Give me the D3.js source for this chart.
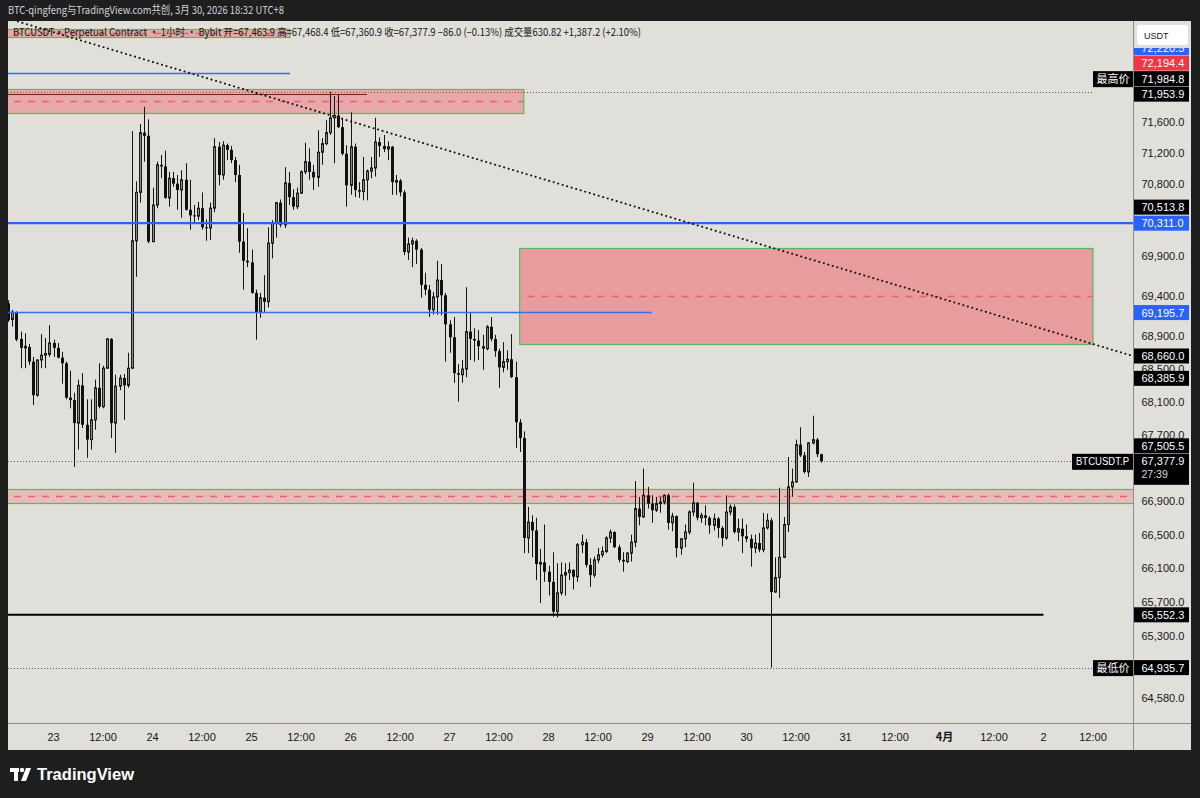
<!DOCTYPE html>
<html>
<head>
<meta charset="utf-8">
<script src="https://cdn.jsdelivr.net/npm/d3@7"></script>
<style>
html, body { margin: 0; padding: 0; background: #1e1e1e; }
svg { display: block; }
text { font-family: "Liberation Sans", Arial, sans-serif; }
</style>
</head>
<body>
<div id="vis"></div>
<script>
//-- Data (BTCUSDT.P, 1h bars from 22 Mar 13:00)
var firstBarTime = "2026-03-22 13:00";

var opens = [69310,69110,69190,68870,68760,68770,68590,68180,68610,68670,68680,68820,68760,68640,68570,68150,68120,67840,68300,67820,
67640,67880,68270,68040,68510,68870,67840,68290,68390,68300,68510,70090,70700,71460,71420,70080,70540,71050,71030,70630,
70880,70810,70730,70860,70480,70410,70400,70500,70260,70250,70500,71280,70920,71300,71240,71110,70920,70080,69840,69820,
69440,69200,69380,69330,70060,70310,70570,70290,70820,70640,70520,70690,70960,71090,70960,70890,71210,71320,71460,71650,
71680,71530,71190,70790,71280,70730,70710,70860,70970,71010,71340,71290,71250,71280,70830,70850,70700,69950,70050,70090,
69980,69540,69480,69230,69390,69600,69410,69050,68890,68450,68430,68500,68960,68870,68850,68780,68750,69020,68870,68720,
68520,68590,68620,68400,67850,67660,66460,66650,66550,66150,66170,66060,65940,65590,65810,66020,66050,66080,66000,66380,
66410,66140,66020,66200,66260,66300,66460,66530,66350,66200,66180,66280,66410,66810,66710,66970,66870,66790,66870,66890,
66970,66640,66720,66340,66450,66530,66770,66880,66700,66730,66700,66610,66690,66580,66460,66770,66830,66530,66570,66480,
66450,66340,66400,66320,66580,66670,65820,65990,66230,66620,67070,67130,67580,67450,67250,67600,67640,67463.9];

var highs = [69350,69230,69210,68960,68940,68810,68650,68620,68930,68880,69040,68860,68820,68710,68590,68480,68210,68370,68450,68130,
68130,68370,68570,68540,68880,68880,68430,68430,68440,68700,71480,70840,71570,71790,71630,70760,71090,71175,71230,70960,
70960,70920,70980,71070,70860,70540,70580,70700,70360,70570,71390,71340,71350,71320,71290,71150,71050,70440,70250,69980,
69480,69440,69660,70260,70350,70580,70610,71020,70960,70740,70760,70980,71330,71260,71050,71490,71390,71620,71984.8,71930,
71953.9,71650,71300,71720,71320,70830,71150,70990,71150,71650,71400,71430,71350,71290,70920,70870,70730,70130,70130,70110,
70000,69690,69540,69450,69840,69800,69440,69100,69140,68560,68610,69510,69190,69000,68980,68920,69040,69140,68920,68750,
68830,68730,68930,68590,67890,67740,66830,66730,66700,66330,66620,66130,66290,66160,66170,66160,66170,66090,66400,66500,
66450,66220,66240,66340,66360,66480,66560,66540,66380,66290,66290,66500,67140,66950,67290,67070,66970,66950,66950,66980,
66990,66760,66730,66460,66620,66790,67120,66890,66760,66850,66720,66750,66710,66600,66970,66860,66860,66690,66690,66620,
66500,66500,66520,66760,66750,66700,66230,67060,66710,67430,67290,67640,67790,67490,67610,67930,67660,67468.4];

var lows = [69080,69020,68840,68510,68510,68550,68060,68160,68510,68510,68650,68650,68630,68320,68130,68020,67310,67520,67780,67420,
67520,67760,68020,68020,68500,67660,67480,68240,67880,68270,68500,69640,70570,71090,70060,70070,70500,70880,70620,70520,
70770,70480,70380,70470,70230,70310,70350,70230,70090,70100,70450,70790,70860,71110,71070,70830,69940,69480,69760,69430,
68860,69130,69200,69260,69870,70130,70260,70250,70540,70480,70490,70680,70930,70860,70730,70770,71050,71300,71430,71070,
71520,71170,70520,70670,70640,70630,70600,70600,70880,70900,71150,71210,71110,70670,70670,70650,69910,69850,69760,69800,
69380,69410,69140,69170,69170,69160,68590,68700,68330,68100,68330,68400,68610,68590,68610,68490,68730,68840,68650,68270,
68460,68490,68390,67540,67490,66280,66280,66230,65960,65690,65940,65780,65530,65520,65780,65780,65960,65850,65940,66280,
66110,65880,65990,66160,66230,66280,66400,66340,66170,66060,66160,66180,66350,66610,66700,66810,66640,66770,66760,66860,
66560,66540,66230,66260,66350,66500,66720,66670,66640,66610,66510,66550,66460,66360,66440,66730,66510,66420,66280,66410,
66120,66280,66290,66290,66560,64935.7,65810,65750,66220,66530,66950,67120,67430,67230,67190,67580,67430,67360.9];

var closes = [69100,69200,68860,68760,68780,68590,68180,68610,68670,68690,68820,68760,68640,68570,68150,68120,67840,68300,67820,67640,
67880,68270,68040,68510,68870,67840,68290,68390,68300,68510,70090,70700,71460,71420,70080,70540,71050,71030,70630,70880,
70810,70730,70860,70480,70410,70400,70500,70260,70250,70500,71280,70920,71300,71240,71110,70920,70080,69840,69820,69440,
69200,69380,69330,70060,70310,70570,70290,70820,70640,70520,70690,70960,71090,70960,70890,71210,71320,71460,71650,71680,
71530,71190,70790,71280,70730,70710,70860,70970,71010,71340,71290,71250,71280,70830,70850,70700,69950,70050,70090,69980,
69540,69480,69230,69390,69600,69410,69050,68890,68450,68430,68500,68960,68870,68850,68780,68750,69020,68870,68720,68520,
68590,68620,68400,67850,67660,66460,66650,66550,66150,66170,66060,65940,65590,65810,66020,66050,66080,66000,66380,66410,
66140,66020,66200,66260,66300,66460,66530,66350,66200,66180,66280,66410,66810,66710,66970,66870,66790,66870,66890,66970,
66640,66720,66340,66450,66530,66770,66880,66700,66730,66700,66610,66690,66580,66460,66770,66830,66530,66570,66480,66450,
66340,66400,66320,66580,66670,65820,65990,66230,66620,67070,67130,67580,67450,67250,67600,67640,67463.9,67377.9];

// price axis ticks (those hidden behind labels in the original are left out)
var priceTicks = [71600, 71200, 70800, 69900, 69400, 68900, 68500, 68100, 67700, 66900, 66500, 66100, 65700, 65300, 64580];

// zones (price boxes)
var zoneTop    = [72798, 72020, 70000, 67046];
var zoneBottom = [72697, 71708, 68808, 66878];
var zoneStart  = ["2026-03-20 00:00", "2026-03-20 00:00", "2026-03-27 17:00", "2026-03-20 00:00"];
var zoneEnd    = ["2026-03-25 09:20", "2026-03-27 18:00", "2026-04-02 12:00", "2026-04-06 00:00"];

// horizontal lines
var hLinePrices = [70311.0, 69195.7, 72220.5, 65552.3, 71953.9];
var hLineEnd    = ["2026-04-06 00:00", "2026-03-29 01:00", "2026-03-25 09:20", "2026-04-02 00:00", "2026-03-26 04:00"];

// trend line
var trendTimes  = ["2026-03-22 11:00", "2026-04-02 21:40"];
var trendPrices = [72966, 68660];

// right-axis price labels
var axisLabelPrices = [72220.5, 72194.4, 71984.8, 71953.9, 70513.8, 70311.0, 69195.7, 68660.0, 68385.9, 67505.5, 67377.9, 65552.3, 64935.7];
var axisLabelKinds  = ["blue", "red", "high", "black", "black", "blue", "blue", "black", "black", "black", "last", "black", "low"];

var highPrice = 71984.8, lowPrice = 64935.7, lastPrice = 67377.9;

var titleText = "BTC-qingfeng与TradingView.com共创, 3月 30, 2026 18:32 UTC+8";
var legendText = "BTCUSDT·Perpetual Contract · 1小时 · Bybit  开=67,463.9  高=67,468.4  低=67,360.9  收=67,377.9  −86.0 (−0.13%)  成交量630.82  +1,387.2 (+2.10%)";

//-- Setup
var width = 1200, height = 798;
var plotL = 8, plotR = 1133, plotT = 21, plotB = 723;
var bg = "#e1dfd9";
var parseT = d3.timeParse("%Y-%m-%d %H:%M");

var svg = d3.select("#vis").append("svg")
  .attr("width", width).attr("height", height);

svg.append("rect").attr("width", width).attr("height", height).attr("fill", "#1e1e1e");
svg.append("rect").attr("x", plotL).attr("y", plotT).attr("width", 1183).attr("height", 750 - plotT).attr("fill", bg);

var x = d3.scaleTime()
  .domain([new Date(2026, 2, 23), new Date(2026, 3, 2)])
  .range([53.5, 1043.5]);
var y = d3.scaleLog()
  .domain([64580, 71600])
  .range([698.3, 121.7]);

svg.append("clipPath").attr("id", "plotclip").append("rect")
  .attr("x", plotL).attr("y", plotT).attr("width", plotR - plotL).attr("height", plotB - plotT);
var plot = svg.append("g").attr("clip-path", "url(#plotclip)");

var firstBar = parseT(firstBarTime);
var bars = opens.map(function (o, i) {
  return { t: d3.timeHour.offset(firstBar, i), o: o, h: highs[i], l: lows[i], c: closes[i] };
});

// dotted high / low / last lines
[[highPrice, 1093], [lowPrice, 1093], [lastPrice, 1072]].forEach(function (p) {
  var yy = Math.round(y(p[0])) + 0.5;
  plot.append("line").attr("x1", plotL).attr("x2", p[1]).attr("y1", yy).attr("y2", yy)
    .attr("stroke", "#5d5d5d").attr("stroke-width", 1).attr("stroke-dasharray", "1,2");
});

// zones
var zoneOpacity = [0.32, 0.32, 0.4, 0.2];
zoneTop.forEach(function (top, i) {
  var x0 = Math.max(x(parseT(zoneStart[i])), plotL - 2), x1 = x(parseT(zoneEnd[i]));
  var y0 = Math.round(y(top)) + 0.5, y1 = Math.round(y(zoneBottom[i])) + 0.5;
  plot.append("rect").attr("x", x0).attr("y", y0).attr("width", x1 - x0).attr("height", y1 - y0)
    .attr("fill", "rgb(242,54,69)").attr("fill-opacity", zoneOpacity[i])
    .attr("stroke", "#5cb860").attr("stroke-width", 1.2);
  var ym = Math.round(y((top + zoneBottom[i]) / 2)) + 0.5;
  plot.append("line").attr("x1", x0 + 8).attr("x2", x1).attr("y1", ym).attr("y2", ym)
    .attr("stroke", "#f0606c").attr("stroke-width", 1.5).attr("stroke-dasharray", "7,7");
});

// candles
var cg = plot.append("g");
cg.selectAll("line").data(bars).enter().append("line")
  .attr("x1", function (d) { return Math.round(x(d.t)) + 0.5; })
  .attr("x2", function (d) { return Math.round(x(d.t)) + 0.5; })
  .attr("y1", function (d) { return y(d.h); })
  .attr("y2", function (d) { return y(d.l); })
  .attr("stroke", "#151515").attr("stroke-width", 1);

cg.selectAll("rect").data(bars).enter().append("rect")
  .attr("x", function (d) { var r = Math.round(x(d.t)); return d.c >= d.o ? r - 0.5 : r - 1; })
  .attr("y", function (d) { return y(Math.max(d.o, d.c)); })
  .attr("width", function (d) { return d.c >= d.o ? 2 : 3; })
  .attr("height", function (d) { return Math.max(1, y(Math.min(d.o, d.c)) - y(Math.max(d.o, d.c))); })
  .attr("fill", function (d) { return d.c >= d.o ? "#8a8a8a" : "#111"; })
  .attr("stroke", function (d) { return d.c >= d.o ? "#1a1a1a" : "none"; })
  .attr("stroke-width", 1);

// horizontal lines
var hLineColor = ["#2962ff", "#3a6df5", "#3a6df5", "#000", "#6e2424"];
var hLineWidth = [2.2, 1.6, 1.6, 2, 1];
hLinePrices.forEach(function (p, i) {
  var yy = hLineWidth[i] === 1 ? Math.round(y(p)) + 0.5 : y(p);
  plot.append("line").attr("x1", plotL).attr("x2", x(parseT(hLineEnd[i])))
    .attr("y1", yy).attr("y2", yy)
    .attr("stroke", hLineColor[i]).attr("stroke-width", hLineWidth[i]);
});

// trend line
plot.append("line")
  .attr("x1", x(parseT(trendTimes[0]))).attr("y1", y(trendPrices[0]))
  .attr("x2", x(parseT(trendTimes[1]))).attr("y2", y(trendPrices[1]))
  .attr("stroke", "#111").attr("stroke-width", 2)
  .attr("stroke-dasharray", "0.1,4.6").attr("stroke-linecap", "round");

// axis separators
svg.append("line").attr("x1", plotR + 0.5).attr("x2", plotR + 0.5).attr("y1", plotT).attr("y2", 750)
  .attr("stroke", "#8c8c8c");
svg.append("line").attr("x1", plotL).attr("x2", 1191).attr("y1", plotB + 0.5).attr("y2", plotB + 0.5)
  .attr("stroke", "#8c8c8c");

// time axis
var timeTicks = d3.timeHour.every(12).range(new Date(2026, 2, 23), new Date(2026, 3, 2, 13));
svg.append("g").selectAll("text").data(timeTicks).enter().append("text")
  .attr("x", function (d) { return x(d); })
  .attr("y", 741)
  .attr("text-anchor", "middle")
  .attr("font-size", 11)
  .attr("fill", "#131722")
  .attr("font-weight", function (d) { return d.getDate() === 1 && d.getHours() === 0 ? "bold" : "normal"; })
  .style("font-family", function (d) { return d.getDate() === 1 && d.getHours() === 0 ? "'Noto Sans CJK SC', sans-serif" : null; })
  .text(function (d) {
    if (d.getHours() === 12) return "12:00";
    if (d.getDate() === 1) return (d.getMonth() + 1) + "月";
    return d.getDate();
  });

// price axis ticks
var fmt = d3.format(",.1f");
svg.append("g").selectAll("text").data(priceTicks).enter().append("text")
  .attr("x", 1141.5)
  .attr("y", function (d) { return y(d) + 4; })
  .attr("font-size", 11)
  .attr("fill", "#131722")
  .text(function (d) { return fmt(d); });

// price labels, pushed apart bottom-up like the original
var labels = axisLabelPrices.map(function (p, i) { return { p: p, kind: axisLabelKinds[i], cy: y(p) }; });
labels.sort(function (a, b) { return b.cy - a.cy; });
for (var k = 1; k < labels.length; k++) {
  var gap = labels[k - 1].kind === "last" ? 8 + 7.5 : 15.5;
  labels[k].cy = Math.min(labels[k].cy, labels[k - 1].cy - gap);
}
var boxFill = { blue: "#2962ff", red: "#f23645", black: "#000", high: "#000", low: "#000", last: "#000" };
var lg = svg.append("g");
labels.forEach(function (l) {
  var h = l.kind === "last" ? 31 : 15;
  var top = l.cy - 7.5;
  lg.append("rect").attr("x", 1134).attr("y", top).attr("width", 55).attr("height", h).attr("fill", boxFill[l.kind]);
  lg.append("text").attr("x", 1141.5).attr("y", l.cy + 4).attr("font-size", 11).attr("fill", "#fff").text(fmt(l.p));
  if (l.kind === "last") {
    lg.append("text").attr("x", 1141.5).attr("y", l.cy + 16.5).attr("font-size", 10.5).attr("fill", "#d8d8d8").text("27:39");
    lg.append("rect").attr("x", 1072).attr("y", top).attr("width", 61).attr("height", 16).attr("fill", "#000");
    lg.append("text").attr("x", 1076).attr("y", l.cy + 4).attr("font-size", 11).attr("fill", "#fff")
      .attr("textLength", 53).attr("lengthAdjust", "spacingAndGlyphs").text("BTCUSDT.P");
  }
  if (l.kind === "high" || l.kind === "low") {
    lg.append("rect").attr("x", 1093).attr("y", top).attr("width", 40).attr("height", 16).attr("fill", "#000");
    lg.append("text").attr("x", 1113).attr("y", l.cy + 4).attr("text-anchor", "middle")
      .attr("font-size", 11).attr("fill", "#fff")
      .style("font-family", "'Noto Sans CJK SC', sans-serif")
      .text(l.kind === "high" ? "最高价" : "最低价");
  }
});

// currency box (covers the top half of the blue label, as in the original)
svg.append("rect").attr("x", 1134).attr("y", plotT).attr("width", 56).attr("height", 27).attr("fill", bg);
svg.append("rect").attr("x", 1137).attr("y", 25).attr("width", 51).attr("height", 20).attr("rx", 3).attr("fill", "#fff");
svg.append("text").attr("x", 1144).attr("y", 38.5).attr("font-size", 9).attr("fill", "#131722").text("USDT");

// header
svg.append("text").attr("x", 8).attr("y", 14).attr("font-size", 11).attr("fill", "#d1d4dc")
  .attr("textLength", 276).attr("lengthAdjust", "spacingAndGlyphs")
  .style("font-family", "'Noto Sans CJK SC', 'Liberation Sans', sans-serif")
  .text(titleText);
svg.append("text").attr("x", 13).attr("y", 36).attr("font-size", 10.5).attr("fill", "#131722")
  .attr("textLength", 628).attr("lengthAdjust", "spacingAndGlyphs")
  .style("font-family", "'Noto Sans CJK SC', 'Liberation Sans', sans-serif")
  .text(legendText);

// logo
var logo = svg.append("g").attr("fill", "#fff");
logo.append("rect").attr("x", 10).attr("y", 768).attr("width", 9).attr("height", 4);
logo.append("rect").attr("x", 14).attr("y", 768).attr("width", 4).attr("height", 13);
logo.append("circle").attr("cx", 22).attr("cy", 770).attr("r", 2.2);
logo.append("path").attr("d", "M26,768 L31,768 L26,781 L21,781 Z");
svg.append("text").attr("x", 37).attr("y", 780).attr("font-size", 16).attr("font-weight", 600)
  .attr("fill", "#fff").attr("textLength", 97).attr("lengthAdjust", "spacingAndGlyphs")
  .text("TradingView");
</script>
</body>
</html>
